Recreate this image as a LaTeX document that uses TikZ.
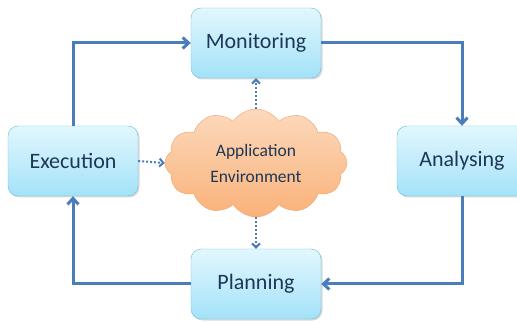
\documentclass[tikz,border=0pt]{standalone}
\usepackage{fontspec}
\setmainfont{Carlito}
\usetikzlibrary{positioning,shapes.symbols,shadows,arrows.meta}
\definecolor{LoopBlue}{HTML}{4A7EBB}
\definecolor{BoxTop}{HTML}{E2F7FE}
\definecolor{BoxBottom}{HTML}{A3E2F8}
\definecolor{BoxLine}{HTML}{6CBFD8}
\definecolor{CloudTop}{HTML}{FCD9BC}
\definecolor{CloudBottom}{HTML}{F9B27A}
\definecolor{CloudLine}{HTML}{F4A060}
\definecolor{TextNavy}{HTML}{1F3656}

\begin{document}
\begin{tikzpicture}[x=1pt,y=-1pt,>=stealth]
  \tikzstyle{stagebox}=[draw=BoxLine,top color=BoxTop,bottom color=BoxBottom,
    rounded corners=10pt,minimum width=130pt,minimum height=70pt,
    text=TextNavy,font=\fontsize{22}{26}\selectfont,
    drop shadow={shadow xshift=1.5pt,shadow yshift=-1.5pt,opacity=0.3}]
  \tikzstyle{envcloud}=[cloud,cloud puffs=12,cloud puff arc=115,aspect=1.7,
    draw=CloudLine,top color=CloudTop,bottom color=CloudBottom,
    minimum width=182pt,minimum height=108pt,inner sep=0pt,align=center,
    text=TextNavy,font=\fontsize{17.5}{26}\selectfont]
  \tikzstyle{loop}=[-{Straight Barb[length=6pt,width=11pt]},line width=3pt,
    color=LoopBlue]
  \tikzstyle{probe}=[-{Straight Barb[length=4pt,width=8pt]},line width=2pt,
    dotted,color=LoopBlue]
  \useasboundingbox (0,0) rectangle (517,323);
  \clip (0,0) rectangle (517,323);
  \node[stagebox] (monitor) at (256,43) {Monitoring};
  \node[stagebox] (execute) at (73,161) {Execution};
  \node[stagebox] (analyse) at (462,161) {Analysing};
  \node[stagebox] (plan) at (256,284) {Planning};
  \node[envcloud] (env) at (256,163) {Application\\Environment};
  % the MAPE loop
  \draw[loop] (execute.north) |- (monitor.west);
  \draw[loop] (monitor.east) -| (analyse.north);
  \draw[loop] (analyse.south) |- (plan.east);
  \draw[loop] (plan.west) -| (execute.south);
  % links with the environment
  \draw[probe] (env.north) -- (monitor.south);
  \draw[probe] (env.south) -- (plan.north);
  \draw[probe] (execute.east) -- (env.west);
\end{tikzpicture}
\end{document}
